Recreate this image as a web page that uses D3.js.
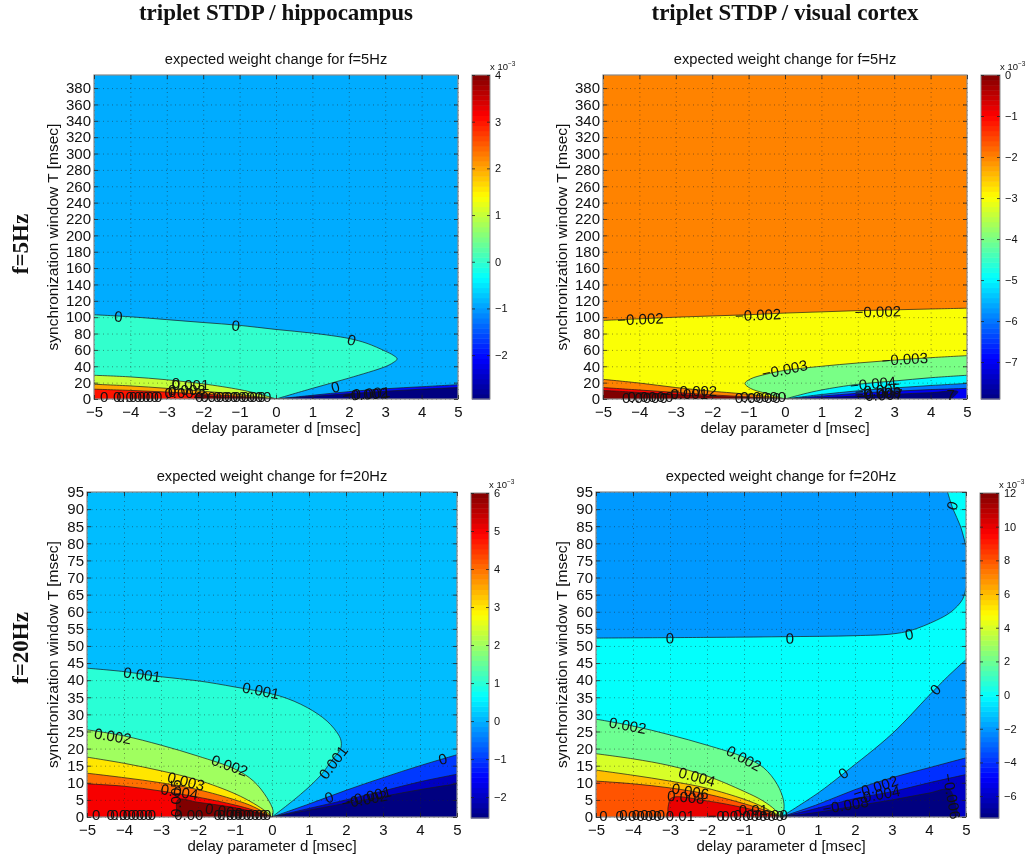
<!DOCTYPE html>
<html lang="en">
<head>
<meta charset="UTF-8">
<title>triplet STDP expected weight change</title>
<style>
  html, body { margin: 0; padding: 0; background: #fff; }
  svg { display: block; filter: blur(0.35px); }
  text { fill: #111; font-family: "Liberation Sans", Arial, sans-serif; }
  .head { font-family: "Liberation Serif", "Times New Roman", serif; font-weight: bold; font-size: 23px; }
  .tick text { font-size: 15px; }
  .cbar .tick text { font-size: 11px; }
</style>
</head>
<body>
<svg id="fig" width="1028" height="855"></svg>
<script src="https://cdnjs.cloudflare.com/ajax/libs/d3/7.8.5/d3.min.js"></script>
<script>
// shared axis values
const dTicks = d3.range(-5, 6);
const tTicks5Hz = d3.range(0, 381, 20);
const tTicks20Hz = d3.range(0, 96, 5);

// colorbar limits and ticks, in units of 1e-3
const climA = [-2.94, 4], cticksA = [-2, -1, 0, 1, 2, 3, 4];
const climB = [-7.9, 0], cticksB = [-7, -6, -5, -4, -3, -2, -1, 0];
const climC = [-2.55, 6], cticksC = [-2, -1, 0, 1, 2, 3, 4, 5, 6];
const climD = [-7.3, 12], cticksD = [-6, -4, -2, 0, 2, 4, 6, 8, 10, 12];

// contour lines, as [d, T]
// hippocampus, 5 Hz
const a0 = [[-5,103],[-4,100.5],[-3,97],[-2,93.5],[-1,90],[0,85],[1,80.5],[2,74],[2.5,68],[3,58.5],[3.22,53.5],[3.33,49],[3.22,44.5],[3,39.5],[2,25.5],[1,13],[0,0]];
const a1 = [[-5,29],[-4,27],[-3,23.5],[-2,18.5],[-1,11.5],[-0.5,6.5],[-0.1,1.5],[0,0]];
const a2 = [[-5,18],[-4,16],[-3,13],[-2,9.5],[-1,5.5],[-0.4,2],[0,0]];
const a3 = [[-5,12],[-4,10.5],[-3,8.5],[-2,6],[-1,3.2],[-0.4,1.2],[0,0]];
const a4 = [[-2.2,0],[-2.2,3.5],[-1.5,2.5],[-0.8,1.5],[0,0]];
const a5 = [[0,0],[1,4.5],[2,9],[3,12.5],[4,15],[5,17.5]];
const a6 = [[0,0],[1,3.2],[2,6.5],[3,9.5],[4,12],[5,14]];

// visual cortex, 5 Hz
const b1 = [[-5,96],[-4,98],[-3,100],[-2,101.5],[-1,103],[0,105],[1,106.5],[2,108],[3,109],[4,110],[5,111]];
const b2 = [[-5,24],[-4,19.5],[-3,14],[-2,9.5],[-1,5.7],[-0.5,3],[0,0]];
const b3 = [[-5,14],[-4,11],[-3,8],[-2,5],[-1,2.5],[0,0]];
const b4 = [[-5,10.5],[-4,8],[-3,5.5],[-2,3.3],[-1,1.5],[0,0]];
const b5 = [[0,0],[-0.5,6.5],[-0.95,13],[-1.1,19],[-0.95,24.5],[-0.5,30.5],[0,35],[1,40],[2,44],[3,47.5],[4,50.5],[5,53]];
const b6 = [[0,0],[0.5,6],[1,11],[2,18],[3,22],[4,26],[5,29]];
const b7 = [[0,0],[1,5.5],[2,10],[3,13.5],[4,16.5],[5,19]];
const b8 = [[0,0],[1,3.5],[2,7],[3,9.5],[4,11.5],[5,13]];
const b9 = [[0,0],[1,1.5],[2,3.7],[3,5.8],[4,7.7],[4.75,9],[4.55,0]];

// hippocampus, 20 Hz
const c1 = [[-5,43.5],[-4,42.5],[-3,41],[-2,39.8],[-1,38],[0.2,35.4],[0.95,32],[1.49,28],[1.8,24],[1.87,22],[1.85,19.8],[1.67,17.3],[1.3,12],[0.77,6.6],[0,0]];
const c2 = [[-5,25.5],[-4,23.7],[-3,21],[-2,17.8],[-1,14],[-0.5,10.5],[-0.14,5.7],[0.03,1.8],[0,0]];
const c3 = [[-5,17.5],[-4,15.7],[-3,13.5],[-2,10.8],[-1,6.8],[-0.5,4],[-0.15,1.5],[0,0]];
const c4 = [[-5,12.8],[-4,11.5],[-3,10],[-2,8],[-1,5],[-0.5,3],[0,0]];
const c5 = [[-5,9.7],[-4,9],[-3,7.6],[-2,5.8],[-1,3.5],[-0.5,2],[0,0]];
const c6 = [[-2.55,0],[-2.55,5],[-2,4.3],[-1,2.7],[-0.5,1.5],[0,0]];
const c7 = [[0,0],[1,3.8],[2,7.8],[3,11.5],[4,15],[5,18.2]];
const c8 = [[0,0],[1,2.5],[2,5],[3,7.6],[4,10.3],[5,12.5]];
const c9 = [[0,0],[1,2],[2,4],[3,6],[4,8],[5,9.7]];

// visual cortex, 20 Hz
const e0 = [[-5,52.3],[-2,52.5],[0,52.7],[2,53],[3,53.5],[3.5,54.5],[4.2,57.5],[4.6,60],[4.9,63.5],[5,67]];
const e1 = [[5,79],[4.85,85],[4.65,90],[4.5,95]];
const e2 = [[0,0],[1,7],[1.7,12.8],[3,24.3],[4,35.5],[4.5,41],[5,46]];
const e3 = [[0,0],[1,3.7],[2,8],[3,11.5],[4,14.4],[5,17.3]];
const e4 = [[0,0],[1,2.6],[2,5.4],[3,7.4],[4,10],[5,12.4]];
const e5 = [[0,0],[1,1.4],[2,3.2],[3,5],[4,7],[4.55,8],[4.7,4],[4.8,0]];
const e6 = [[-5,28.6],[-4,26.6],[-3,24],[-2,21],[-1,17.5],[-0.47,14.4],[-0.1,9.5],[0.07,4.7],[0.07,1.7],[0,0]];
const e7 = [[-5,18.5],[-4,17],[-3,15],[-2,12],[-1,7.5],[-0.5,4.8],[-0.15,2],[0,0]];
const e8 = [[-5,13.7],[-4,12.2],[-3,10.5],[-2,8.4],[-1,5.2],[-0.5,3],[0,0]];
const e9 = [[-5,10.5],[-4,9.7],[-3,8.5],[-2,6.7],[-1,3.9],[-0.5,2.2],[0,0]];
const e10 = [[-3.05,0],[-3.05,3],[-2.95,5.6],[-2,4.7],[-1,2.7],[-0.5,1.4],[0,0]];

// filled regions: [level in 1e-3, contour, axis corners that close it]
const regionsA = [[0,a0,[[-5,0]]],[1,a1,[[-5,0]]],[2,a2,[[-5,0]]],[3,a3,[[-5,0]]],[4,a4,[]],[-2,a5,[[5,0]]],[-3,a6,[[5,0]]]];
const regionsB = [[-3,b1,[[5,0],[-5,0]]],[-2,b2,[[-5,0]]],[-1,b3,[[-5,0]]],[0,b4,[[-5,0]]],[-4,b5,[[5,0]]],[-5,b6,[[5,0]]],[-6,b7,[[5,0]]],[-7,b8,[[5,0]]],[-8,b9,[]]];
const regionsC = [[1,c1,[[-5,0]]],[2,c2,[[-5,0]]],[3,c3,[[-5,0]]],[4,c4,[[-5,0]]],[5,c5,[[-5,0]]],[6,c6,[]],[-1,c7,[[5,0]]],[-2,c8,[[5,0]]],[-3,c9,[[5,0]]]];
const regionsD = [[-2,e0.concat(e1),[[-5,95]]],[-2,e2,[[5,0]]],[-4,e3,[[5,0]]],[-6,e4,[[5,0]]],[-8,e5,[]],[2,e6,[[-5,0]]],[4,e7,[[-5,0]]],[6,e8,[[-5,0]]],[8,e9,[[-5,0]]],[10,e10,[]]];

const linesA = [a0,a1,a2,a3,a4,a5,a6];
const linesB = [b1,b2,b3,b4,b5,b6,b7,b8,b9];
const linesC = [c1,c2,c3,c4,c5,c6,c7,c8,c9];
const linesD = [e0,e1,e2,e3,e4,e5,e6,e7,e8,e9,e10];

// contour labels: [text, d, T], they turn with the nearest line unless a fourth value is given
const labelsA = [["0",-4.33,101],["0",-1.1,90],["0",2.08,72.5],["0",1.63,15],["\u22120.001",2.5,7],["\u22120.002",2.45,6]];
const labelsB = [["\u22120.002",-3.97,98],["\u22120.002",-0.74,103],["\u22120.002",2.55,107],["\u22120.003",-0.01,36.5],["\u22120.003",3.29,49],["\u22120.004",2.42,19],["\u22120.005",2.55,11],["\u22120.006",2.55,7],["\u22120.007",2.6,5]];
const labelsC = [["0.001",-3.51,41.7],["0.001",-0.3,37],["0.001",1.65,16],["0.002",-4.3,23.7],["0.002",-1.14,15.1],["0.003",-2.32,10.5],["0.004",-2.5,7.4],["0.005",-2.6,5.5],["0.006",-1.3,1.8],["0",1.54,5.8],["0",4.61,17],["\u22120.001",2.6,6.1],["\u22120.002",2.5,5.2]];
const labelsD = [["0",4.62,91,-72],["0",-3,52.3],["0",0.24,52.3],["0",3.46,53.5],["0",4.17,37.3],["0",1.68,12.8],["0.002",-4.14,26.8],["0.002",-1,17.2],["0.004",-2.27,11.8],["0.006",-2.45,7.6],["0.008",-2.57,5.9],["\u22120.002",2.55,8.8],["\u22120.004",2.6,6.6],["\u22120.008",1.74,3.5],["\u22120.006",4.62,6.1,80]];

// the squeezed labels along the bottom edge and in the crowded lobes, all flat
const clutterA = [["0",-4.72,3],["0.0000",-3.85,3],["0.0000",-3.75,3.5],["0",-2.85,9],["0.002",-2.55,8],["0.003",-2.45,12],["0",-2.75,20],["0.001",-2.35,18],["0.0000000",-1.25,3.5],["0.0000000",-1.1,3]];
const clutterB = [["0.0000",-3.85,2],["0.0000",-3.7,2.5],["\u22120.001",-2.75,7],["\u22120.002",-2.5,10],["0.0000",-0.75,2],["0.0000",-0.6,2.5],["7",4.55,5]];
const clutterC = [["0",-4.75,0.6],["0.0000",-3.85,0.6],["0.0000",-3.75,0.8],["0.00",-2.25,0.7],["0.00000",-0.85,0.6],["0.00000",-0.75,0.8]];
const clutterD = [["0",-4.8,0.5],["0.0000",-3.85,0.5],["0.0000",-3.75,0.7],["0.01",-2.72,0.4],["\u22120",-1.75,0.5],["0",-1.5,0.5],["0.00000",-0.65,0.5],["0.00000",-0.55,0.7],["0.01",-0.75,2.3]];

const svg = d3.select("#fig");

// jet colormap
const jet = d3.scaleLinear()
  .domain([0, 1/8, 3/8, 5/8, 7/8, 1])
  .range(["#000080", "#0000ff", "#00ffff", "#ffff00", "#ff0000", "#800000"])
  .clamp(true);

let clipId = 0;

function drawPanel(opt) {
  const g = svg.append("g");
  const x = d3.scaleLinear().domain([-5, 5]).range([opt.x0, opt.x1]);
  const y = d3.scaleLinear().domain([0, opt.tMax]).range([opt.y1, opt.y0]);
  const levelColor = d3.scaleLinear().domain(opt.clim).range([0, 1]);
  const fill = v => jet(levelColor(v));
  const w = opt.x1 - opt.x0, h = opt.y1 - opt.y0;

  const id = "clip" + (clipId++);
  g.append("clipPath").attr("id", id).append("rect")
    .attr("x", opt.x0).attr("y", opt.y0).attr("width", w).attr("height", h);

  const curve = d3.line().x(p => x(p[0])).y(p => y(p[1])).curve(d3.curveCatmullRom.alpha(0.5));
  const plot = g.append("g").attr("clip-path", "url(#" + id + ")");

  plot.append("rect").attr("x", opt.x0).attr("y", opt.y0).attr("width", w).attr("height", h)
    .attr("fill", fill(opt.bg));

  plot.selectAll("path.region").data(opt.regions).enter().append("path")
    .attr("class", "region")
    .attr("fill", r => fill(r[0]))
    .attr("d", r => curve(r[1]) + r[2].map(p => "L" + x(p[0]) + "," + y(p[1])).join("") + "Z");

  plot.selectAll("path.line").data(opt.lines).enter().append("path")
    .attr("class", "line")
    .attr("fill", "none").attr("stroke", "#1a1a1a").attr("stroke-width", 0.7)
    .attr("d", curve);

  // dotted grid
  const gridX = g.append("g").attr("transform", "translate(0," + opt.y1 + ")")
    .call(d3.axisBottom(x).tickValues(dTicks).tickSize(-h).tickFormat(""));
  const gridY = g.append("g").attr("transform", "translate(" + opt.x0 + ",0)")
    .call(d3.axisLeft(y).tickValues(opt.tTicks).tickSize(-w).tickFormat(""));
  [gridX, gridY].forEach(a => {
    a.select(".domain").remove();
    a.selectAll("line").attr("stroke", "#222").attr("stroke-opacity", 0.6).attr("stroke-width", 0.8).attr("stroke-dasharray", "1,3.5");
  });

  // frame with inward ticks on all sides
  g.append("rect").attr("x", opt.x0).attr("y", opt.y0).attr("width", w).attr("height", h)
    .attr("fill", "none").attr("stroke", "#8a8a8a").attr("stroke-width", 1.2);

  const bottom = g.append("g").attr("transform", "translate(0," + opt.y1 + ")")
    .call(d3.axisBottom(x).tickValues(dTicks).tickSizeInner(-4).tickSizeOuter(0).tickPadding(7));
  const left = g.append("g").attr("transform", "translate(" + opt.x0 + ",0)")
    .call(d3.axisLeft(y).tickValues(opt.tTicks).tickSizeInner(-4).tickSizeOuter(0).tickPadding(3));
  const top = g.append("g").attr("transform", "translate(0," + opt.y0 + ")")
    .call(d3.axisTop(x).tickValues(dTicks).tickSizeInner(-4).tickSizeOuter(0).tickFormat(""));
  const right = g.append("g").attr("transform", "translate(" + opt.x1 + ",0)")
    .call(d3.axisRight(y).tickValues(opt.tTicks).tickSizeInner(-4).tickSizeOuter(0).tickFormat(""));
  [bottom, left, top, right].forEach(a => {
    a.select(".domain").remove();
    a.selectAll("line").attr("stroke", "#222").attr("stroke-width", 0.8);
  });
  bottom.selectAll("text").attr("dy", "0.71em");

  // titles
  g.append("text").attr("x", (opt.x0 + opt.x1) / 2).attr("y", opt.y0 - 11)
    .attr("text-anchor", "middle").attr("font-size", 14.7).text(opt.title);
  g.append("text").attr("x", (opt.x0 + opt.x1) / 2).attr("y", opt.y1 + 34)
    .attr("text-anchor", "middle").attr("font-size", 15).text("delay parameter d [msec]");
  g.append("text").attr("transform", "translate(" + opt.ylabelX + "," + (opt.y0 + opt.y1) / 2 + ") rotate(-90)")
    .attr("text-anchor", "middle").attr("font-size", 15.5).text("synchronization window T [msec]");

  // contour labels follow the slope of the nearest contour line
  function labelAngle(l) {
    if (l.length > 3) return l[3];
    let best = Infinity, angle = 0;
    opt.lines.forEach(line => {
      d3.pairs(line).forEach(([p, q]) => {
        const ax = x(p[0]), ay = y(p[1]), bx = x(q[0]), by = y(q[1]);
        const dx = bx - ax, dy = by - ay;
        const s = Math.max(0, Math.min(1, ((x(l[1]) - ax) * dx + (y(l[2]) - ay) * dy) / (dx * dx + dy * dy)));
        const dist = Math.hypot(ax + s * dx - x(l[1]), ay + s * dy - y(l[2]));
        if (dist < best) {
          best = dist;
          angle = Math.atan2(dy, dx) * 180 / Math.PI;
        }
      });
    });
    if (angle > 90) angle -= 180;
    if (angle < -90) angle += 180;
    return angle;
  }

  g.selectAll("text.label").data(opt.labels.map(l => [l[0], l[1], l[2], labelAngle(l)])
      .concat(opt.clutter.map(l => [l[0], l[1], l[2], 0]))).enter().append("text")
    .attr("class", "label")
    .attr("font-size", 15).attr("text-anchor", "middle").attr("dominant-baseline", "central")
    .attr("transform", l => "translate(" + x(l[1]) + "," + y(l[2]) + ") rotate(" + l[3] + ")")
    .text(l => l[0]);

  // colorbar, 64 steps like the original colormap
  const cy = d3.scaleLinear().domain(opt.clim).range([opt.cy1, opt.cy0]);
  const steps = d3.range(64);
  const bar = g.append("g").attr("class", "cbar");
  bar.selectAll("rect").data(steps).enter().append("rect")
    .attr("x", opt.cx0).attr("width", opt.cx1 - opt.cx0)
    .attr("y", i => opt.cy1 - (i + 1) * (opt.cy1 - opt.cy0) / 64)
    .attr("height", (opt.cy1 - opt.cy0) / 64 + 0.5)
    .attr("fill", i => jet((i + 0.5) / 64));
  bar.append("rect").attr("x", opt.cx0).attr("y", opt.cy0)
    .attr("width", opt.cx1 - opt.cx0).attr("height", opt.cy1 - opt.cy0)
    .attr("fill", "none").attr("stroke", "#8a8a8a").attr("stroke-width", 1);
  const cAxis = bar.append("g").attr("transform", "translate(" + opt.cx1 + ",0)")
    .call(d3.axisRight(cy).tickValues(opt.cticks).tickSizeInner(-3).tickSizeOuter(0).tickPadding(5).tickFormat(d3.format("d")));
  cAxis.select(".domain").remove();
  cAxis.selectAll("line").attr("stroke", "#222").attr("stroke-width", 0.8);
  const cLeft = bar.append("g").attr("transform", "translate(" + opt.cx0 + ",0)")
    .call(d3.axisLeft(cy).tickValues(opt.cticks).tickSizeInner(-3).tickSizeOuter(0).tickFormat(""));
  cLeft.select(".domain").remove();
  cLeft.selectAll("line").attr("stroke", "#222").attr("stroke-width", 0.8);

  const exp = bar.append("text").attr("x", opt.cx1).attr("y", opt.cy0 - 5).attr("font-size", 9.5).text("x 10");
  exp.append("tspan").attr("dy", -4).attr("font-size", 6.5).text("\u22123");
}

drawPanel({
  x0: 94, x1: 458, y0: 75, y1: 399, tMax: 396, tTicks: tTicks5Hz, bg: -0.9, ylabelX: 58,
  clim: climA, cticks: cticksA, regions: regionsA, lines: linesA, labels: labelsA, clutter: clutterA,
  title: "expected weight change for f=5Hz", cx0: 472, cx1: 490, cy0: 75, cy1: 399
});
drawPanel({
  x0: 603, x1: 967, y0: 75, y1: 399, tMax: 396, tTicks: tTicks5Hz, bg: -2, ylabelX: 567,
  clim: climB, cticks: cticksB, regions: regionsB, lines: linesB, labels: labelsB, clutter: clutterB,
  title: "expected weight change for f=5Hz", cx0: 981, cx1: 1000, cy0: 75, cy1: 399
});
drawPanel({
  x0: 87, x1: 457, y0: 492, y1: 817, tMax: 95, tTicks: tTicks20Hz, bg: 0.1, ylabelX: 58,
  clim: climC, cticks: cticksC, regions: regionsC, lines: linesC, labels: labelsC, clutter: clutterC,
  title: "expected weight change for f=20Hz", cx0: 471, cx1: 489, cy0: 493, cy1: 818
});
drawPanel({
  x0: 596, x1: 966, y0: 492, y1: 817, tMax: 95, tTicks: tTicks20Hz, bg: 0, ylabelX: 567,
  clim: climD, cticks: cticksD, regions: regionsD, lines: linesD, labels: labelsD, clutter: clutterD,
  title: "expected weight change for f=20Hz", cx0: 980, cx1: 999, cy0: 493, cy1: 818
});

// column and row headings
svg.append("text").attr("class", "head").attr("x", 276).attr("y", 20).attr("text-anchor", "middle").text("triplet STDP / hippocampus");
svg.append("text").attr("class", "head").attr("x", 785).attr("y", 20).attr("text-anchor", "middle").text("triplet STDP / visual cortex");
svg.append("text").attr("class", "head").attr("transform", "translate(28,244) rotate(-90)").attr("text-anchor", "middle").text("f=5Hz");
svg.append("text").attr("class", "head").attr("transform", "translate(28,648) rotate(-90)").attr("text-anchor", "middle").text("f=20Hz");
</script>
</body>
</html>
